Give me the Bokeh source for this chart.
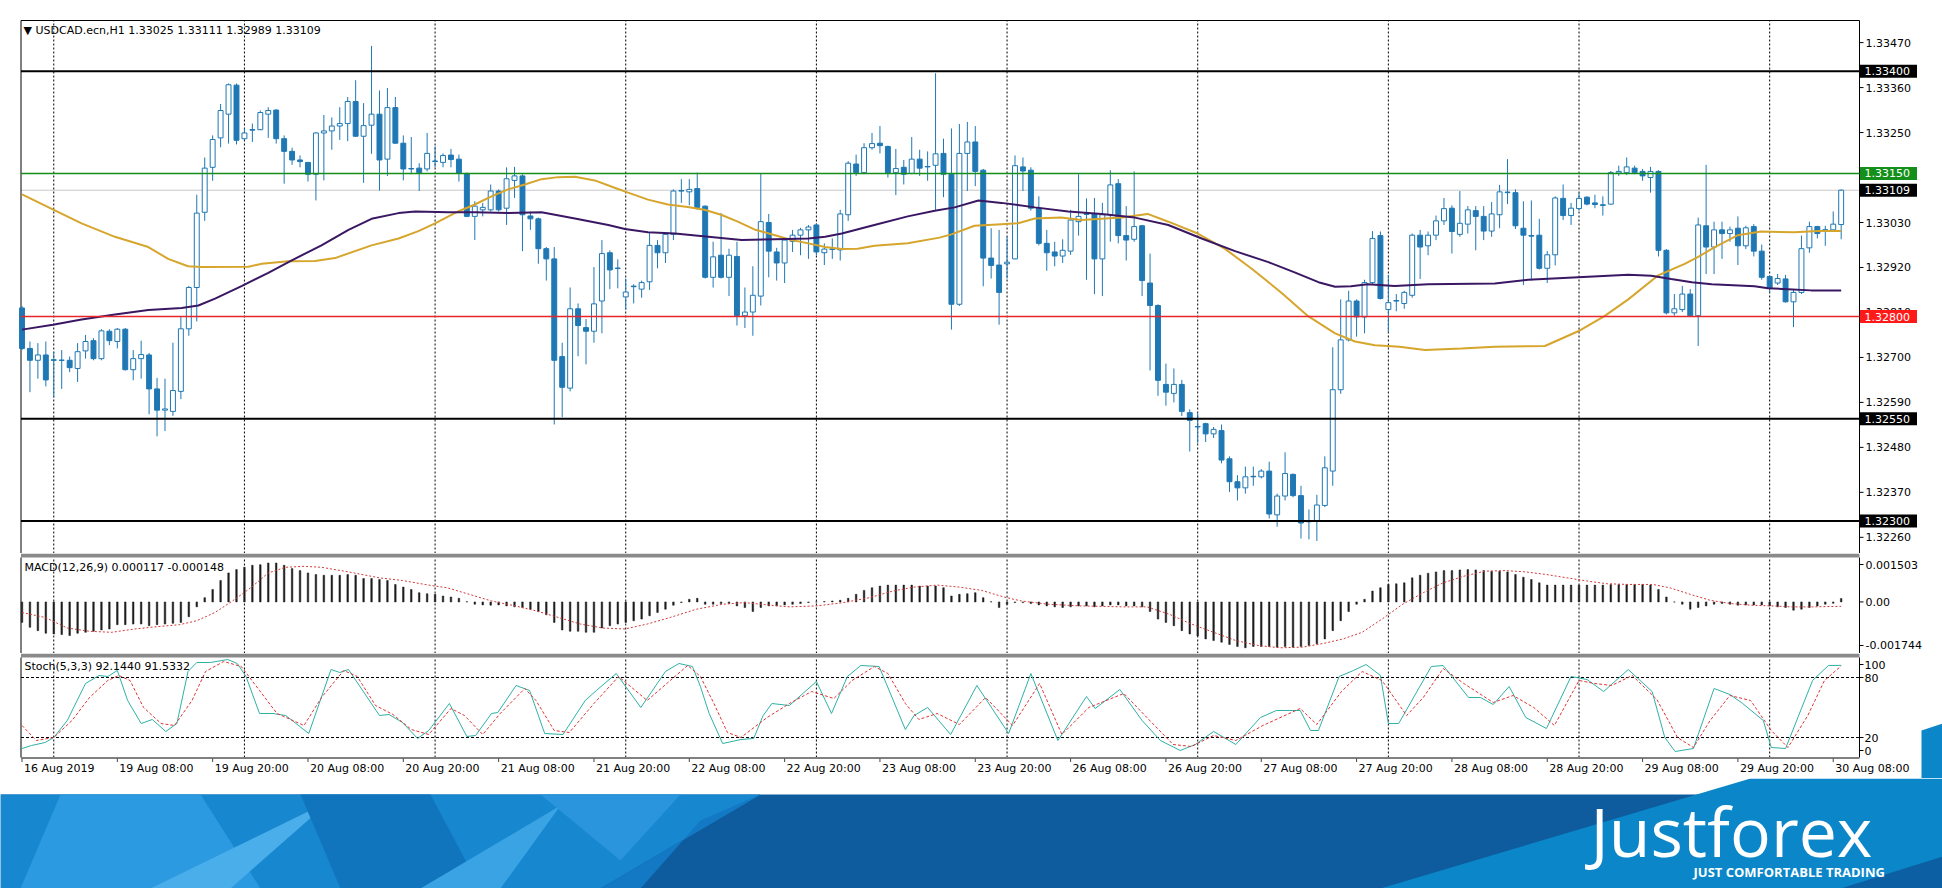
from bokeh.plotting import figure
from bokeh.models import Range1d
from bokeh.layouts import column
from bokeh.embed import file_html
from bokeh.resources import INLINE
from bokeh.core.properties import value

FONT = "DejaVu Sans"

# ---------------- data (USDCAD H1, 16 Aug 20:00 .. 30 Aug 09:00) ----------------
opens = [1.32821, 1.32722, 1.32693, 1.32706, 1.32693, 1.32693, 1.32693, 1.32673, 1.32716, 1.32741,
         1.32697, 1.32764, 1.32739, 1.32769, 1.32670, 1.32697, 1.32706, 1.32623, 1.32571, 1.32568,
         1.32617, 1.32770, 1.32871, 1.33055, 1.33165, 1.33237, 1.33295, 1.33366, 1.33235, 1.33256,
         1.33257, 1.33295, 1.33305, 1.33235, 1.33204, 1.33183, 1.33177, 1.33148, 1.33249, 1.33254,
         1.33266, 1.33272, 1.33326, 1.33241, 1.33268, 1.33295, 1.33185, 1.33311, 1.33224, 1.33161,
         1.33163, 1.33161, 1.33179, 1.33177, 1.33195, 1.33185, 1.33150, 1.33045, 1.33061, 1.33061,
         1.33107, 1.33065, 1.33133, 1.33144, 1.33046, 1.33039, 1.32966, 1.32941, 1.32702, 1.32625,
         1.32819, 1.32773, 1.32764, 1.32838, 1.32956, 1.32918, 1.32848, 1.32873, 1.32867, 1.32885,
         1.32974, 1.32956, 1.33001, 1.33107, 1.33105, 1.33113, 1.33070, 1.32896, 1.32950, 1.32896,
         1.32947, 1.32802, 1.32811, 1.32850, 1.33030, 1.32958, 1.32931, 1.32984, 1.32999, 1.33012,
         1.33024, 1.32956, 1.32964, 1.32963, 1.33049, 1.33173, 1.33152, 1.33213, 1.33224, 1.33216,
         1.33152, 1.33165, 1.33150, 1.33185, 1.33166, 1.33170, 1.33199, 1.33148, 1.32830, 1.33199,
         1.33227, 1.33158, 1.32943, 1.32926, 1.32929, 1.32941, 1.33166, 1.33158, 1.33065, 1.32979,
         1.32958, 1.32948, 1.32960, 1.33032, 1.33051, 1.33051, 1.32941, 1.33049, 1.33125, 1.32998,
         1.32989, 1.33022, 1.32882, 1.32827, 1.32634, 1.32612, 1.32634, 1.32565, 1.32530, 1.32538,
         1.32513, 1.32521, 1.32452, 1.32396, 1.32381, 1.32408, 1.32408, 1.32422, 1.32315, 1.32361,
         1.32414, 1.32362, 1.32298, 1.32300, 1.32338, 1.32422, 1.32621, 1.32743, 1.32838, 1.32799,
         1.32883, 1.32998, 1.32817, 1.32838, 1.32832, 1.32852, 1.32999, 1.32973, 1.32999, 1.33034,
         1.33065, 1.33001, 1.33026, 1.33059, 1.33045, 1.33009, 1.33049, 1.33103, 1.33103, 1.33016,
         1.32998, 1.32999, 1.32918, 1.32951, 1.33089, 1.33047, 1.33064, 1.33092, 1.33078, 1.33072,
         1.33075, 1.33151, 1.33152, 1.33163, 1.33155, 1.33140, 1.33155, 1.32962, 1.32809, 1.32817,
         1.32855, 1.32802, 1.33022, 1.32970, 1.33012, 1.33003, 1.33016, 1.32973, 1.33020, 1.32960,
         1.32898, 1.32882, 1.32892, 1.32836, 1.32859, 1.32968, 1.33020, 1.33012, 1.33012, 1.33025]
highs = [1.32826, 1.32739, 1.32735, 1.32739, 1.32714, 1.32718, 1.32702, 1.32735, 1.32755, 1.32747,
         1.32769, 1.32769, 1.32772, 1.32772, 1.32718, 1.32741, 1.32711, 1.32650, 1.32648, 1.32736,
         1.32801, 1.32875, 1.33098, 1.33189, 1.33243, 1.33320, 1.33370, 1.33370, 1.33260, 1.33272,
         1.33304, 1.33312, 1.33307, 1.33243, 1.33213, 1.33194, 1.33177, 1.33251, 1.33293, 1.33287,
         1.33312, 1.33337, 1.33378, 1.33322, 1.33462, 1.33353, 1.33359, 1.33337, 1.33243, 1.33239,
         1.33175, 1.33249, 1.33216, 1.33199, 1.33210, 1.33196, 1.33152, 1.33082, 1.33078, 1.33123,
         1.33111, 1.33165, 1.33166, 1.33148, 1.33057, 1.33042, 1.32970, 1.32970, 1.32736, 1.32871,
         1.32832, 1.32794, 1.32921, 1.32987, 1.32962, 1.32940, 1.32893, 1.32879, 1.32888, 1.33006,
         1.32987, 1.33006, 1.33111, 1.33136, 1.33136, 1.33152, 1.33072, 1.32983, 1.33053, 1.32966,
         1.32983, 1.32871, 1.32923, 1.33150, 1.33051, 1.32968, 1.32993, 1.33012, 1.33017, 1.33024,
         1.33028, 1.32979, 1.32991, 1.33061, 1.33180, 1.33196, 1.33224, 1.33249, 1.33266, 1.33218,
         1.33210, 1.33183, 1.33239, 1.33208, 1.33204, 1.33395, 1.33235, 1.33260, 1.33271, 1.33276,
         1.33266, 1.33161, 1.33016, 1.33012, 1.32995, 1.33194, 1.33189, 1.33165, 1.33094, 1.33012,
         1.32983, 1.32989, 1.33061, 1.33148, 1.33089, 1.33090, 1.33078, 1.33158, 1.33136, 1.33070,
         1.33155, 1.33024, 1.32954, 1.32830, 1.32685, 1.32673, 1.32645, 1.32573, 1.32563, 1.32540,
         1.32530, 1.32536, 1.32458, 1.32412, 1.32433, 1.32433, 1.32427, 1.32445, 1.32367, 1.32468,
         1.32416, 1.32386, 1.32328, 1.32364, 1.32458, 1.32725, 1.32842, 1.32863, 1.32842, 1.32890,
         1.33009, 1.33008, 1.32902, 1.32855, 1.32863, 1.33003, 1.33012, 1.33008, 1.33047, 1.33090,
         1.33072, 1.33107, 1.33070, 1.33070, 1.33070, 1.33080, 1.33122, 1.33185, 1.33111, 1.33082,
         1.33084, 1.33039, 1.32960, 1.33094, 1.33123, 1.33078, 1.33103, 1.33094, 1.33098, 1.33094,
         1.33156, 1.33169, 1.33189, 1.33169, 1.33161, 1.33166, 1.33158, 1.32965, 1.32855, 1.32875,
         1.32867, 1.33042, 1.33171, 1.33032, 1.33032, 1.33020, 1.33045, 1.33022, 1.33026, 1.32976,
         1.32900, 1.32904, 1.32902, 1.32865, 1.32998, 1.33032, 1.33022, 1.33022, 1.33057, 1.33111]
lows = [1.32718, 1.32615, 1.32648, 1.32629, 1.32602, 1.32623, 1.32664, 1.32640, 1.32697, 1.32693,
        1.32693, 1.32730, 1.32722, 1.32668, 1.32644, 1.32648, 1.32561, 1.32507, 1.32520, 1.32557,
        1.32598, 1.32753, 1.32788, 1.33034, 1.33132, 1.33214, 1.33223, 1.33221, 1.33231, 1.33227,
        1.33256, 1.33237, 1.33223, 1.33125, 1.33171, 1.33165, 1.33130, 1.33084, 1.33133, 1.33208,
        1.33232, 1.33229, 1.33239, 1.33127, 1.33198, 1.33108, 1.33144, 1.33223, 1.33133, 1.33148,
        1.33107, 1.33155, 1.33165, 1.33165, 1.33165, 1.33130, 1.33043, 1.32987, 1.33045, 1.33057,
        1.33057, 1.33024, 1.33090, 1.32960, 1.33012, 1.32929, 1.32888, 1.32536, 1.32554, 1.32617,
        1.32703, 1.32683, 1.32736, 1.32759, 1.32867, 1.32869, 1.32817, 1.32832, 1.32846, 1.32865,
        1.32918, 1.32931, 1.32987, 1.33078, 1.33072, 1.33061, 1.32893, 1.32871, 1.32893, 1.32850,
        1.32778, 1.32772, 1.32753, 1.32827, 1.32896, 1.32888, 1.32882, 1.32958, 1.32950, 1.32941,
        1.32950, 1.32926, 1.32941, 1.32937, 1.33034, 1.33144, 1.33148, 1.33208, 1.33199, 1.33140,
        1.33097, 1.33123, 1.33148, 1.33144, 1.33132, 1.33061, 1.33092, 1.32768, 1.32826, 1.33107,
        1.33119, 1.32874, 1.32893, 1.32780, 1.32893, 1.32940, 1.33107, 1.33059, 1.32974, 1.32912,
        1.32923, 1.32931, 1.32951, 1.32998, 1.32890, 1.32855, 1.32850, 1.32983, 1.32979, 1.32937,
        1.32983, 1.32850, 1.32668, 1.32606, 1.32582, 1.32590, 1.32557, 1.32470, 1.32491, 1.32493,
        1.32503, 1.32441, 1.32371, 1.32350, 1.32367, 1.32386, 1.32404, 1.32306, 1.32286, 1.32350,
        1.32358, 1.32257, 1.32255, 1.32251, 1.32334, 1.32386, 1.32611, 1.32739, 1.32751, 1.32759,
        1.32879, 1.32842, 1.32761, 1.32813, 1.32819, 1.32846, 1.32892, 1.32950, 1.32987, 1.33024,
        1.32954, 1.32995, 1.33003, 1.32962, 1.32987, 1.32995, 1.33016, 1.33075, 1.33014, 1.32877,
        1.32888, 1.32915, 1.32882, 1.32925, 1.33036, 1.33024, 1.33059, 1.33072, 1.33065, 1.33047,
        1.33074, 1.33144, 1.33146, 1.33148, 1.33132, 1.33103, 1.32947, 1.32805, 1.32802, 1.32811,
        1.32801, 1.32728, 1.32904, 1.32904, 1.32941, 1.32983, 1.32926, 1.32965, 1.32947, 1.32890,
        1.32859, 1.32877, 1.32834, 1.32774, 1.32855, 1.32956, 1.32991, 1.32973, 1.33009, 1.32989]
closes = [1.32722, 1.32693, 1.32706, 1.32645, 1.32694, 1.32693, 1.32675, 1.32714, 1.32739, 1.32697,
          1.32765, 1.32741, 1.32769, 1.32670, 1.32697, 1.32707, 1.32623, 1.32571, 1.32574, 1.32619,
          1.32770, 1.32871, 1.33053, 1.33163, 1.33233, 1.33304, 1.33367, 1.33231, 1.33249, 1.33257,
          1.33299, 1.33304, 1.33235, 1.33204, 1.33183, 1.33179, 1.33148, 1.33249, 1.33254, 1.33266,
          1.33272, 1.33326, 1.33241, 1.33267, 1.33295, 1.33183, 1.33311, 1.33224, 1.33161, 1.33162,
          1.33152, 1.33199, 1.33180, 1.33194, 1.33184, 1.33150, 1.33045, 1.33070, 1.33067, 1.33107,
          1.33061, 1.33137, 1.33144, 1.33049, 1.33039, 1.32966, 1.32941, 1.32693, 1.32627, 1.32819,
          1.32778, 1.32764, 1.32831, 1.32954, 1.32914, 1.32918, 1.32860, 1.32874, 1.32883, 1.32974,
          1.32956, 1.33001, 1.33107, 1.33108, 1.33111, 1.33067, 1.32896, 1.32946, 1.32896, 1.32950,
          1.32802, 1.32811, 1.32852, 1.33032, 1.32960, 1.32931, 1.32987, 1.32999, 1.33012, 1.33019,
          1.32958, 1.32965, 1.32965, 1.33051, 1.33175, 1.33152, 1.33213, 1.33223, 1.33218, 1.33152,
          1.33162, 1.33148, 1.33185, 1.33163, 1.33167, 1.33198, 1.33148, 1.32830, 1.33199, 1.33227,
          1.33155, 1.32943, 1.32925, 1.32859, 1.32933, 1.33169, 1.33156, 1.33065, 1.32979, 1.32956,
          1.32948, 1.32962, 1.33036, 1.33045, 1.33050, 1.32941, 1.33049, 1.33122, 1.32998, 1.32987,
          1.33020, 1.32888, 1.32827, 1.32644, 1.32615, 1.32634, 1.32568, 1.32546, 1.32531, 1.32513,
          1.32524, 1.32449, 1.32396, 1.32381, 1.32408, 1.32409, 1.32422, 1.32317, 1.32361, 1.32416,
          1.32362, 1.32295, 1.32299, 1.32339, 1.32430, 1.32621, 1.32743, 1.32838, 1.32799, 1.32883,
          1.32991, 1.32844, 1.32834, 1.32839, 1.32859, 1.32999, 1.32970, 1.32999, 1.33034, 1.33064,
          1.33008, 1.33028, 1.33061, 1.33045, 1.33009, 1.33051, 1.33105, 1.33104, 1.33022, 1.32999,
          1.32997, 1.32918, 1.32951, 1.33090, 1.33047, 1.33065, 1.33089, 1.33075, 1.33074, 1.33073,
          1.33152, 1.33155, 1.33166, 1.33152, 1.33144, 1.33155, 1.32962, 1.32809, 1.32819, 1.32855,
          1.32802, 1.33024, 1.32970, 1.33012, 1.33003, 1.33012, 1.32973, 1.33017, 1.32960, 1.32896,
          1.32869, 1.32893, 1.32836, 1.32859, 1.32966, 1.33020, 1.33003, 1.33011, 1.33026, 1.33109]

# moving averages (bar index, price)
ma_gold_x = [0, 4, 7.5, 11.7, 15.9, 18.4, 20.9, 22.6, 28.5, 30.2, 33.5, 36.9, 39.4, 44.0, 47.4, 49.9,
             52.0, 54.9, 57.0, 59.1, 61.2, 63.3, 65.4, 67.5, 69.6, 72.1, 74.6, 76.3, 78.8, 81.3, 83.8,
             85.9, 88.0, 90.1, 92.2, 94.8, 96.9, 99.0, 101.1, 103.2, 105.2, 107.3, 111.5, 115.5, 117.0,
             119.9, 123.3, 125.4, 127.5, 130.8, 133.3, 135.9, 138.4, 141.7, 144.3, 148.0, 151.4, 154.8,
             158.5, 161.9, 165.3, 167.8, 170.3, 173.4, 176.6, 181.2, 185.4, 191.7, 195.9, 199.2, 202.2,
             205.9, 209.3, 211.0, 213.1, 216.0, 218.9, 223.1, 226.1, 229.0]
ma_gold_y = [1.33099, 1.33061, 1.33028, 1.32995, 1.32970, 1.32941, 1.32923, 1.32921, 1.32922, 1.32929,
             1.32935, 1.32936, 1.32943, 1.32974, 1.32991, 1.33009, 1.33028, 1.33057, 1.33074, 1.33094,
             1.33111, 1.33123, 1.33136, 1.33141, 1.33142, 1.33133, 1.33115, 1.33103, 1.33086, 1.33074,
             1.33068, 1.33061, 1.33049, 1.33032, 1.33013, 1.32999, 1.32987, 1.32979, 1.32970, 1.32965,
             1.32966, 1.32973, 1.32979, 1.32993, 1.33001, 1.33022, 1.33026, 1.33028, 1.33040, 1.33042,
             1.33036, 1.33039, 1.33042, 1.33051, 1.33032, 1.33003, 1.32966, 1.32917, 1.32859, 1.32801,
             1.32759, 1.32739, 1.32730, 1.32726, 1.32718, 1.32722, 1.32726, 1.32728, 1.32764, 1.32801,
             1.32842, 1.32900, 1.32929, 1.32946, 1.32970, 1.32999, 1.33008, 1.33006, 1.33009, 1.33009]
ma_purple_x = [0, 3.9, 7.5, 11.7, 15.9, 20.1, 22.2, 24.3, 27.7, 31.0, 33.9, 37.7, 41.1, 44.0, 47.4,
               49.5, 53.7, 57.0, 61.2, 65.4, 69.6, 73.8, 75.9, 78.8, 82.2, 86.4, 90.6, 94.8, 99.0,
               101.1, 103.2, 107.3, 111.5, 114.9, 117.4, 120.4, 123.3, 127.5, 131.7, 135.9, 140.1,
               144.3, 148.5, 152.7, 156.9, 160.2, 163.2, 165.3, 167.3, 169.4, 172.8, 177.0, 185.4,
               189.6, 195.9, 202.2, 205.1, 207.6, 210.2, 212.7, 218.1, 219.8, 222.3, 225.2, 229.0]
ma_purple_y = [1.32768, 1.32780, 1.32793, 1.32805, 1.32816, 1.32821, 1.32827, 1.32844, 1.32875, 1.32907,
               1.32937, 1.32974, 1.33012, 1.33039, 1.33053, 1.33057, 1.33055, 1.33055, 1.33053, 1.33055,
               1.33040, 1.33024, 1.33014, 1.33006, 1.33003, 1.32995, 1.32987, 1.32989, 1.32991, 1.32995,
               1.33003, 1.33024, 1.33045, 1.33059, 1.33067, 1.33084, 1.33078, 1.33067, 1.33057, 1.33051,
               1.33042, 1.33024, 1.32991, 1.32960, 1.32933, 1.32908, 1.32884, 1.32873, 1.32874, 1.32879,
               1.32875, 1.32879, 1.32881, 1.32890, 1.32896, 1.32902, 1.32900, 1.32892, 1.32884, 1.32879,
               1.32874, 1.32869, 1.32867, 1.32864, 1.32864]

# MACD(12,26,9) histogram, one value per bar
macd_hist = [-0.000692, -0.000859, -0.000971, -0.001060, -0.001083, -0.001105, -0.001138, -0.001060, -0.001027, -0.000993,
             -0.000949, -0.000915, -0.000770, -0.000770, -0.000748, -0.000748, -0.000804, -0.000770, -0.000748, -0.000725,
             -0.000692, -0.000502, -0.000167, 0.000145, 0.000424, 0.000725, 0.000982, 0.001094, 0.001172, 0.001239,
             0.001261, 0.001317, 0.001317, 0.001239, 0.001127, 0.001060, 0.000982, 0.000926, 0.000904, 0.000904,
             0.000904, 0.000926, 0.000904, 0.000792, 0.000792, 0.000759, 0.000725, 0.000591, 0.000502, 0.000424,
             0.000313, 0.000279, 0.000257, 0.000201, 0.000167, 0.000123, 0.000010, -0.000078, -0.000100, -0.000112,
             -0.000100, -0.000134, -0.000167, -0.000190, -0.000246, -0.000324, -0.000435, -0.000692, -0.000949, -0.000993,
             -0.000993, -0.001027, -0.001027, -0.000882, -0.000804, -0.000748, -0.000692, -0.000636, -0.000580, -0.000469,
             -0.000357, -0.000246, -0.000112, -0.000022, 0.000089, 0.000123, -0.000078, -0.000078, -0.000056, -0.000056,
             -0.000134, -0.000190, -0.000324, -0.000190, -0.000134, -0.000134, -0.000100, -0.000078, -0.000056, -0.000022,
             -0.000005, 0.000011, 0.000033, 0.000056, 0.000123, 0.000257, 0.000391, 0.000480, 0.000536, 0.000569,
             0.000569, 0.000569, 0.000569, 0.000536, 0.000536, 0.000536, 0.000480, 0.000201, 0.000257, 0.000279,
             0.000313, 0.000145, 0.000005, -0.000190, -0.000078, -0.000022, -0.000022, -0.000056, -0.000100, -0.000134,
             -0.000167, -0.000190, -0.000167, -0.000134, -0.000134, -0.000167, -0.000134, -0.000100, -0.000100, -0.000134,
             -0.000134, -0.000167, -0.000324, -0.000580, -0.000692, -0.000804, -0.000971, -0.001083, -0.001149, -0.001250,
             -0.001306, -0.001362, -0.001440, -0.001507, -0.001551, -0.001507, -0.001507, -0.001507, -0.001529, -0.001507,
             -0.001529, -0.001507, -0.001473, -0.001417, -0.001250, -0.000971, -0.000636, -0.000324, -0.000078, 0.000089,
             0.000368, 0.000480, 0.000591, 0.000614, 0.000647, 0.000815, 0.000904, 0.000971, 0.001016, 0.001060,
             0.001060, 0.001083, 0.001094, 0.001083, 0.001060, 0.001038, 0.001038, 0.001016, 0.000926, 0.000837,
             0.000759, 0.000647, 0.000569, 0.000569, 0.000569, 0.000569, 0.000569, 0.000569, 0.000569, 0.000569,
             0.000591, 0.000591, 0.000591, 0.000591, 0.000591, 0.000569, 0.000424, 0.000167, -0.000005, -0.000078,
             -0.000246, -0.000190, -0.000134, -0.000078, -0.000056, -0.000078, -0.000112, -0.000100, -0.000100, -0.000100,
             -0.000134, -0.000167, -0.000190, -0.000279, -0.000246, -0.000190, -0.000134, -0.000078, -0.000045, 0.000117]
macd_sig_x = [0, 2.9, 5.7, 8.5, 11.3, 14.2, 17.0, 19.8, 22.0, 24.3, 26.5, 28.8, 31.0, 33.2, 35.5, 37.7,
              41.1, 45.0, 47.9, 51.2, 53.5, 56.3, 59.1, 61.9, 64.7, 67.5, 70.3, 73.1, 75.9, 78.7, 81.6,
              84.9, 88.2, 91.0, 93.8, 96.6, 100.0, 103.4, 106.7, 109.6, 112.3, 115.2, 118.0, 120.8,
              123.6, 125.8, 129.2, 133.2, 138.7, 141.6, 144.4, 147.2, 150.0, 152.8, 155.6, 158.4,
              161.2, 164.0, 166.3, 168.7, 171.2, 173.8, 176.4, 178.9, 181.5, 184.1, 186.7, 189.3,
              191.9, 194.5, 197.1, 199.6, 202.2, 205.3, 207.4, 210.0, 212.5, 215.1, 217.7, 220.2,
              222.8, 225.4, 229.0]
macd_sig_y = [-0.000357, -0.000525, -0.000882, -0.000993, -0.001027, -0.000915, -0.000837, -0.000770,
              -0.000636, -0.000357, 0.000033, 0.000480, 0.000982, 0.001172, 0.001205, 0.001172,
              0.001016, 0.000815, 0.000725, 0.000569, 0.000480, 0.000257, 0.000033, -0.000123,
              -0.000301, -0.000525, -0.000748, -0.000882, -0.000915, -0.000748, -0.000525,
              -0.000246, -0.000078, -0.000022, -0.000100, -0.000167, -0.000134, -0.000022, 0.000145,
              0.000368, 0.000502, 0.000569, 0.000502, 0.000391, 0.000167, 0.000033, -0.000078,
              -0.000134, -0.000167, -0.000167, -0.000413, -0.000748, -0.001027, -0.001306, -0.001473,
              -0.001551, -0.001529, -0.001395, -0.001250, -0.001027, -0.000580, -0.000078, 0.000313,
              0.000647, 0.000870, 0.001038, 0.001060, 0.001016, 0.000926, 0.000815, 0.000703,
              0.000614, 0.000591, 0.000591, 0.000480, 0.000257, 0.000056, -0.000056, -0.000112,
              -0.000134, -0.000167, -0.000167, -0.000148]

# Stochastic(5,3,3): %K main line and %D signal line (bar index, value)
stoch_k_x = [0, 1.2, 2.9, 4.0, 5.7, 8.0, 9.7, 10.8, 12.0, 13.3, 15.0, 16.4, 18.1, 19.5, 20.9, 22.0, 23.7,
             25.9, 27.1, 28.2, 29.9, 31.6, 33.2, 36.1, 38.9, 40.0, 41.1, 45.0, 46.2, 47.9, 49.8, 51.2,
             53.8, 56.0, 57.1, 59.1, 59.9, 62.2, 63.9, 65.8, 68.1, 70.9, 72.3, 74.8, 77.9, 81.0, 82.7,
             84.4, 85.4, 86.5, 88.2, 90.5, 92.1, 93.3, 94.4, 96.6, 100.0, 101.9, 103.9, 105.6, 107.9,
             111.2, 112.3, 114.0, 116.9, 120.2, 124.2, 127.0, 130.4, 134.0, 135.1, 138.2, 141.0, 143.3,
             145.8, 147.7, 150.0, 152.8, 155.9, 157.9, 160.9, 162.2, 163.2, 165.8, 167.6, 169.2, 171.0,
             172.0, 173.3, 177.4, 178.9, 182.1, 183.6, 185.2, 187.2, 189.3, 191.9, 195.0, 197.0, 199.1,
             202.2, 205.2, 206.8, 208.1, 210.4, 213.0, 215.0, 216.6, 219.2, 220.2, 222.0, 225.4, 227.4, 229.0]
stoch_k_y = [9, 12, 15, 20, 37, 74, 82, 81, 87, 57, 34, 38, 26, 34, 86, 95, 95,
             98, 94, 81, 44, 44, 42, 24, 88, 85, 88, 42, 43, 35, 19, 27,
             54, 21, 22, 44, 45, 72, 67, 24, 23, 57, 67, 84, 50, 86, 94,
             91, 71, 44, 14, 18, 19, 42, 54, 52, 76, 44, 81, 92, 91,
             28, 42, 50, 23, 72, 24, 84, 17, 61, 49, 68, 37, 17,
             7, 13, 26, 13, 40, 47, 47, 27, 27, 81, 87, 93, 82,
             34, 34, 91, 92, 60, 60, 53, 71, 40, 29, 81, 78, 66,
             88, 66, 20, 6, 9, 69, 63, 54, 37, 10, 9, 77, 92, 92.144]
stoch_d_x = [0, 1.8, 4.0, 6.3, 8.5, 10.8, 12.2, 13.6, 15.3, 17.5, 19.2, 21.4, 23.1, 25.4, 27.6, 29.9,
             32.1, 35.5, 37.7, 40.5, 42.2, 44.5, 46.7, 49.0, 51.2, 54.0, 55.7, 58.0, 60.2, 63.3, 64.7,
             67.0, 68.9, 72.0, 75.1, 78.7, 81.6, 83.8, 85.4, 87.1, 88.8, 90.5, 93.8, 96.6, 99.4, 102.2,
             104.5, 107.3, 109.0, 111.2, 112.9, 115.2, 118.0, 121.3, 124.7, 128.1, 130.9, 134.3, 138.7,
             141.6, 144.9, 147.2, 150.0, 152.8, 156.2, 160.9, 163.0, 166.1, 168.7, 171.2, 174.3, 176.4,
             178.9, 181.5, 185.2, 187.7, 190.3, 192.9, 196.0, 198.0, 200.1, 202.7, 205.8, 208.4, 210.4,
             212.5, 215.0, 217.6, 220.2, 222.3, 224.8, 226.9, 229.0]
stoch_d_y = [32, 17, 20, 37, 60, 77, 82, 77, 50, 34, 32, 57, 86, 96, 91, 67,
             44, 32, 60, 87, 81, 52, 43, 28, 23, 49, 42, 23, 44, 69, 57,
             27, 25, 54, 81, 57, 77, 92, 81, 54, 25, 20, 40, 54, 66, 59,
             77, 91, 84, 54, 38, 44, 33, 60, 32, 74, 23, 50, 64,
             40, 13, 11, 22, 17, 32, 49, 33, 66, 86, 77, 42, 60,
             89, 74, 55, 62, 50, 32, 77, 74, 72, 82, 58, 20, 10,
             37, 62, 57, 27, 10, 42, 77, 91.533]

levels_black = [1.33400, 1.32550, 1.32300]
level_green = 1.33150
level_red = 1.32800
bid = 1.33109
price_ticks = [1.33470, 1.33360, 1.33250, 1.33030, 1.32920, 1.32810, 1.32700,
               1.32590, 1.32480, 1.32370, 1.32260]
macd_ticks = [0.001266, 0.0, -0.001473]
macd_tick_labels = ["0.001503", "0.00", "-0.001744"]
stoch_ticks = [93, 80, 20, 7]
stoch_tick_labels = ["100", "80", "20", "0"]
day_starts = [4, 28, 52, 76, 100, 124, 148, 172, 196, 220]
time_idx = [0, 12, 24, 36, 48, 60, 72, 84, 96, 108, 120, 132, 144, 156, 168, 180, 192, 204, 216, 228]
time_labels = ["16 Aug 2019", "19 Aug 08:00", "19 Aug 20:00", "20 Aug 08:00", "20 Aug 20:00",
               "21 Aug 08:00", "21 Aug 20:00", "22 Aug 08:00", "22 Aug 20:00", "23 Aug 08:00",
               "23 Aug 20:00", "26 Aug 08:00", "26 Aug 20:00", "27 Aug 08:00", "27 Aug 20:00",
               "28 Aug 08:00", "28 Aug 20:00", "29 Aug 08:00", "29 Aug 20:00", "30 Aug 08:00"]

# ---------------- layout constants (page pixels) ----------------
W = 1942
SX = 7.944            # pixels per bar
X0 = -2.706           # bar coordinate at the left page edge
def bx(px):           # page x pixel -> bar coordinate
    return X0 + px / SX
XL, XR = bx(20.5), bx(1859)
X_RANGE = (X0, X0 + W / SX)
CANDLE = "#1f78b4"
SEP = "#8a8a8a"
TXT = dict(text_font=value(FONT), text_font_size=value("11px"), text_color="black",
           text_baseline=value("middle"), text_align=value("left"))


def panel(height, y0, y1):
    f = figure(width=W, height=height, x_range=Range1d(*X_RANGE), y_range=Range1d(y0, y1),
               output_backend="svg", toolbar_location=None, title=None,
               x_axis_location=None, y_axis_location=None,
               min_border_left=0, min_border_right=0, min_border_top=0, min_border_bottom=0)
    f.xgrid.visible = False
    f.ygrid.visible = False
    f.outline_line_color = None
    f.background_fill_color = "white"
    f.border_fill_color = "white"
    return f


def frame_lines(f, ybot, ytop, ticks, labels, label_px=1865):
    f.segment(x0=day_starts, x1=day_starts, y0=[ybot] * len(day_starts), y1=[ytop] * len(day_starts),
              line_color="black", line_dash="2 2", line_width=1)
    f.segment(x0=[XL, XR], x1=[XL, XR], y0=[ybot, ybot], y1=[ytop, ytop], line_color="black", line_width=1)
    f.segment(x0=[XR] * len(ticks), x1=[bx(1863)] * len(ticks), y0=ticks, y1=ticks,
              line_color="black", line_width=1)
    f.text(x=[bx(label_px)] * len(ticks), y=ticks, text=labels, **TXT)


# ---------------- main price panel: page y 0..553 ----------------
PX_PER_PRICE = 40884.0
M_TOP = 1.335241                      # price at the top border (page y 20)
M_BOT = M_TOP - 533 / PX_PER_PRICE    # price at page y 553
main = panel(553, M_BOT, M_TOP + 20 / PX_PER_PRICE)

main.segment(x0=[XL], x1=[XR], y0=[bid], y1=[bid], line_color="#c8c8c8", line_width=1)
frame_lines(main, M_BOT, M_TOP, price_ticks, ["%.5f" % t for t in price_ticks])
main.segment(x0=[XL], x1=[XR], y0=[M_TOP], y1=[M_TOP], line_color="black", line_width=1)

idx = list(range(len(opens)))
main.segment(x0=idx, y0=lows, x1=idx, y1=highs, line_color=CANDLE, line_width=1)
up = [i for i in idx if closes[i] >= opens[i]]
dn = [i for i in idx if closes[i] < opens[i]]
main.vbar(x=up, width=0.62, top=[closes[i] for i in up], bottom=[opens[i] for i in up],
          fill_color="white", line_color=CANDLE, line_width=1)
main.vbar(x=dn, width=0.62, top=[opens[i] for i in dn], bottom=[closes[i] for i in dn],
          fill_color=CANDLE, line_color=CANDLE, line_width=1)
doji = [i for i in idx if abs(closes[i] - opens[i]) < 0.000025]
main.segment(x0=[i - 0.31 for i in doji], x1=[i + 0.31 for i in doji],
             y0=[closes[i] for i in doji], y1=[closes[i] for i in doji], line_color=CANDLE, line_width=1)

main.line(ma_gold_x, ma_gold_y, line_color="#d6a52c", line_width=2)
main.line(ma_purple_x, ma_purple_y, line_color="#3a1763", line_width=2)

n = len(levels_black)
main.segment(x0=[XL] * n, x1=[XR] * n, y0=levels_black, y1=levels_black, line_color="black", line_width=2)
main.segment(x0=[XL], x1=[XR], y0=[level_green], y1=[level_green], line_color="#14901a", line_width=1.5)
main.segment(x0=[XL], x1=[XR], y0=[level_red], y1=[level_red], line_color="#e8262a", line_width=1.5)

box_vals = [1.33400, level_green, bid, level_red, 1.32550, 1.32300]
box_cols = ["black", "#14901a", "black", "#ff1a1a", "black", "black"]
main.rect(x=[bx(1888)] * len(box_vals), y=box_vals, width=57, height=13, width_units="screen",
          height_units="screen", fill_color=box_cols, line_color=None)
main.text(x=[bx(1864)] * len(box_vals), y=box_vals, text=["%.5f" % v for v in box_vals],
          text_font=value(FONT), text_font_size=value("11px"), text_color="white",
          text_baseline=value("middle"), text_align=value("left"))

main.text(x=[bx(23)], y=[M_TOP - 9.5 / PX_PER_PRICE],
          text=["\u25bc USDCAD.ecn,H1  1.33025 1.33111 1.32989 1.33109"], **TXT)

# ---------------- MACD panel: page y 553..653 ----------------
MACD_HI, MACD_LO = 0.001503, -0.001744
PX_MACD = 96 / (MACD_HI - MACD_LO)
macd = panel(100, MACD_LO, MACD_HI + 4 / PX_MACD)
macd.quad(left=[XL], right=[XR], bottom=[MACD_HI], top=[MACD_HI + 4 / PX_MACD], fill_color=SEP, line_color=None)
frame_lines(macd, MACD_LO, MACD_HI, macd_ticks, macd_tick_labels)
macd.vbar(x=idx, width=0.2, top=macd_hist, bottom=0, fill_color="#1e1e1e", line_color="#1e1e1e", line_width=0.5)
macd.line(macd_sig_x, macd_sig_y, line_color="#d03a3a", line_width=1, line_dash="2 2")
macd.text(x=[bx(24)], y=[MACD_HI - 10 / PX_MACD], text=["MACD(12,26,9) 0.000117 -0.000148"], **TXT)

# ---------------- Stochastic panel: page y 653..778 (0 at y 757, 1 px per unit) ----------------
stoch = panel(125, -21, 104)
stoch.quad(left=[XL], right=[XR], bottom=[100], top=[104], fill_color=SEP, line_color=None)
frame_lines(stoch, 0, 100, stoch_ticks, stoch_tick_labels, label_px=1864)
stoch.segment(x0=[XL, XL], x1=[XR, XR], y0=[80, 20], y1=[80, 20], line_color="black",
              line_dash="3 2", line_width=1)
stoch.line(stoch_k_x, stoch_k_y, line_color="#2fb1a6", line_width=1)
stoch.line(stoch_d_x, stoch_d_y, line_color="#e03434", line_width=1, line_dash="3 2")
stoch.segment(x0=[XL], x1=[XR], y0=[-0.5], y1=[-0.5], line_color="#808080", line_width=2)
stoch.segment(x0=time_idx, x1=time_idx, y0=[-1] * len(time_idx), y1=[-4.5] * len(time_idx),
              line_color="#444444", line_width=1)
stoch.text(x=[t + 2 / SX for t in time_idx], y=[-10.5] * len(time_idx), text=time_labels, **TXT)
stoch.text(x=[bx(24)], y=[91], text=["Stoch(5,3,3) 92.1440 91.5332"], **TXT)
# corner of the banner artwork rising at the right edge
stoch.patch([bx(1921), bx(1921), bx(1942), bx(1942)], [-21, 27, 34, -21], fill_color="#0a86c9", line_color=None)

# ---------------- banner: page y 778..888 ----------------
ban = figure(width=W, height=110, x_range=Range1d(0, W), y_range=Range1d(888, 778),
             output_backend="svg", toolbar_location=None, title=None,
             x_axis_location=None, y_axis_location=None,
             min_border_left=0, min_border_right=0, min_border_top=0, min_border_bottom=0)
ban.xgrid.visible = False
ban.ygrid.visible = False
ban.outline_line_color = None
ban.background_fill_color = "white"
ban.border_fill_color = "white"
shapes = [
    ([0, 1942, 1942, 0], [794, 794, 888, 888], "#0e5c9e"),
    ([0, 760, 600, 0], [794, 794, 888, 888], "#1787cf"),
    ([60, 200, 260, 20], [794, 794, 888, 888], "#2b9ae0"),
    ([150, 330, 230], [888, 800, 888], "#4aaeea"),
    ([300, 430, 480, 340], [794, 794, 888, 888], "#1175bd"),
    ([420, 560, 500], [888, 805, 888], "#39a3e4"),
    ([540, 680, 620], [794, 794, 860], "#2a94dc"),
    ([640, 700, 760, 600], [888, 820, 794, 888], "#1479c4"),
    ([1380, 1750, 1942, 1942], [888, 778, 778, 888], "#0a86c9"),
    ([1840, 1942, 1942], [888, 856, 888], "#0c5fa2"),
]
for xs, ys, c in shapes:
    ban.patch(xs, ys, fill_color=c, line_color=None)
ban.text(x=[1590], y=[830], text=["Justforex"], text_font=value("Open Sans"),
         text_font_size=value("68px"), text_color="white",
         text_baseline=value("middle"), text_align=value("left"))
ban.text(x=[1693], y=[871], text=["JUST COMFORTABLE TRADING"], text_font=value("Open Sans"),
         text_font_size=value("13px"), text_font_style=value("bold"), text_color="white",
         text_baseline=value("middle"), text_align=value("left"))

layout = column(main, macd, stoch, ban, spacing=0)
open("out.html", "w").write(file_html(layout, INLINE))
